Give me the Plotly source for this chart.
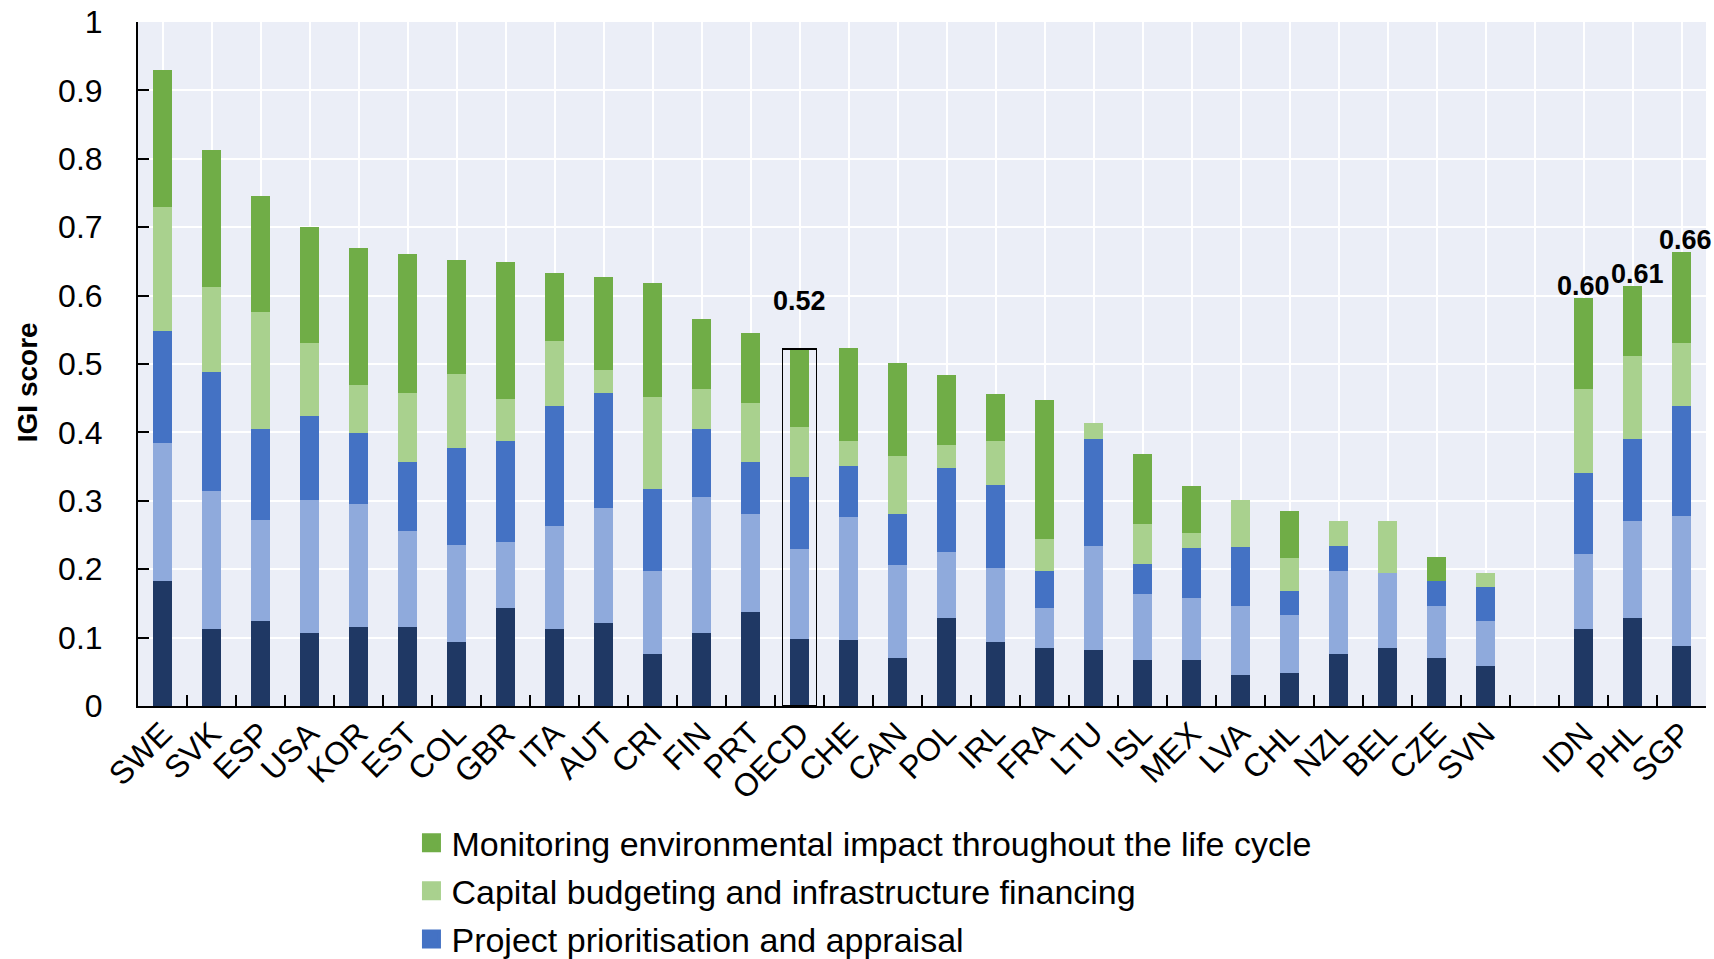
import plotly.graph_objects as go

# ---------------- data ----------------
oecd_members = ["SWE", "SVK", "ESP", "USA", "KOR", "EST", "COL", "GBR", "ITA", "AUT",
                "CRI", "FIN", "PRT", "OECD", "CHE", "CAN", "POL", "IRL", "FRA", "LTU",
                "ISL", "MEX", "LVA", "CHL", "NZL", "BEL", "CZE", "SVN"]
partners = ["IDN", "PHL", "SGP"]
countries = oecd_members + partners

series_names = [
    "Strategic planning",
    "Regulatory framework",
    "Project prioritisation and appraisal",
    "Capital budgeting and infrastructure financing",
    "Monitoring environmental impact throughout the life cycle",
]

strategic = [0.183, 0.113, 0.124, 0.107, 0.116, 0.116, 0.094, 0.143, 0.113, 0.121,
             0.076, 0.107, 0.137, 0.098, 0.097, 0.070, 0.129, 0.094, 0.085, 0.082,
             0.067, 0.067, 0.045, 0.048, 0.076, 0.085, 0.070, 0.059,
             0.113, 0.129, 0.088]
regulatory = [0.202, 0.201, 0.148, 0.194, 0.179, 0.140, 0.141, 0.097, 0.150, 0.169,
              0.121, 0.199, 0.144, 0.132, 0.179, 0.136, 0.096, 0.108, 0.058, 0.152,
              0.097, 0.091, 0.101, 0.085, 0.121, 0.109, 0.076, 0.065,
              0.109, 0.142, 0.190]
prioritisation = [0.163, 0.174, 0.133, 0.123, 0.104, 0.101, 0.142, 0.147, 0.176, 0.168,
                  0.120, 0.099, 0.076, 0.105, 0.075, 0.075, 0.123, 0.121, 0.054, 0.156,
                  0.044, 0.073, 0.087, 0.035, 0.037, 0.000, 0.037, 0.050,
                  0.119, 0.119, 0.161]
budgeting = [0.182, 0.125, 0.171, 0.107, 0.070, 0.101, 0.108, 0.062, 0.095, 0.033,
             0.135, 0.059, 0.086, 0.073, 0.036, 0.085, 0.034, 0.064, 0.047, 0.024,
             0.058, 0.022, 0.068, 0.048, 0.037, 0.077, 0.000, 0.020,
             0.123, 0.122, 0.092]
monitoring = [0.200, 0.200, 0.170, 0.169, 0.201, 0.203, 0.167, 0.200, 0.099, 0.136,
              0.166, 0.102, 0.102, 0.114, 0.136, 0.136, 0.102, 0.069, 0.203, 0.000,
              0.102, 0.069, 0.000, 0.069, 0.000, 0.000, 0.035, 0.000,
              0.133, 0.102, 0.133]

labelled = ["OECD", "IDN", "PHL", "SGP"]
highlighted = "OECD"

# ---------------- style ----------------
colors = ["#1F3864", "#8FAADC", "#4472C4", "#A9D18E", "#70AD47"]
FONT = "Liberation Sans Narrow, Arial Narrow, Liberation Sans, Arial, sans-serif"

spacer = " "
category_axis = oecd_members + [spacer] + partners
n_slots = len(category_axis)

values = [strategic, regulatory, prioritisation, budgeting, monitoring]
totals = [sum(v[i] for v in values) for i in range(len(countries))]

fig = go.Figure()

for name, vals, col in zip(series_names, values, colors):
    fig.add_trace(go.Bar(
        x=countries, y=vals, name=name, width=0.4,
        marker=dict(color=col, line=dict(width=0)),
        showlegend=False, hovertemplate="%{x}: %{y:.2f}<extra>" + name + "</extra>",
    ))

# outline around the OECD average bar
hi = countries.index(highlighted)
fig.add_trace(go.Bar(
    x=[category_axis.index(highlighted)], y=[totals[hi]], xaxis="x2", width=0.7,
    marker=dict(color="rgba(0,0,0,0)", line=dict(color="black", width=1.6)),
    showlegend=False, hoverinfo="skip",
))

# legend entries (top component first)
for name, col in reversed(list(zip(series_names, colors))):
    fig.add_trace(go.Scatter(
        x=[None], y=[None], mode="markers", name=name, legendgroup=name,
        marker=dict(symbol="square", size=16, color=col, line=dict(color=col, width=3)),
    ))

# value labels
label_shift = {"OECD": (0, 31), "IDN": (0, -5), "PHL": (5, -5), "SGP": (4, -5)}
for c in labelled:
    i = countries.index(c)
    dx, dy = label_shift[c]
    fig.add_annotation(
        x=c, y=totals[i], text="<b>%.2f</b>" % totals[i], showarrow=False,
        xanchor="center", yanchor="bottom", xshift=dx, yshift=dy,
        font=dict(family=FONT, size=27, color="black"),
    )

# y axis title
fig.add_annotation(
    xref="paper", yref="paper", x=-0.0705, y=0.474, text="<b>IGI score</b>",
    textangle=-90, showarrow=False, xanchor="center", yanchor="middle",
    font=dict(family=FONT, size=28, color="black"),
)

yticks = [i / 10 for i in range(11)]
ytext = ["0"] + ["%.1f" % v for v in yticks[1:-1]] + ["1"]

fig.update_layout(
    width=1714, height=959,
    margin=dict(l=138, r=8, t=22, b=253, autoexpand=False),
    paper_bgcolor="white", plot_bgcolor="#EBEEF7",
    barmode="stack",
    font=dict(family=FONT, color="black"),
    xaxis=dict(
        type="category", categoryorder="array", categoryarray=category_axis,
        range=[-0.5, n_slots - 0.5], showgrid=True, gridcolor="white", gridwidth=2,
        showline=True, linecolor="black", linewidth=2, ticks="", tickangle=-45,
        tickfont=dict(family=FONT, size=32, color="black"), zeroline=False,
        ticklabelstandoff=-6,
    ),
    xaxis2=dict(
        overlaying="x", anchor="y", type="linear", range=[-0.5, n_slots - 0.5],
        tickvals=[i + 0.5 for i in range(-1, n_slots)], ticks="inside", ticklen=11,
        tickwidth=1.5, tickcolor="black", showticklabels=False, showgrid=False,
        zeroline=False, showline=False, side="bottom",
    ),
    yaxis=dict(
        range=[0, 1], tickvals=yticks, ticktext=ytext, ticks="inside", ticklen=11,
        tickwidth=1.5, tickcolor="black", showline=True, linecolor="black", linewidth=2,
        showgrid=True, gridcolor="white", gridwidth=2, zeroline=False,
        tickfont=dict(family=FONT, size=32, color="black"), ticklabelstandoff=27,
    ),
    legend=dict(
        orientation="v", x=0.1744, xanchor="left", y=-0.158, yanchor="top",
        traceorder="grouped", tracegroupgap=1, bgcolor="rgba(0,0,0,0)",
        font=dict(family="Liberation Sans, Arial, sans-serif", size=34, color="black"),
    ),
    showlegend=True,
)

fig.write_html(
    "out.html",
    config={"displayModeBar": False},
    post_script="document.body.style.margin='0px';document.body.style.overflow='hidden';",
)
